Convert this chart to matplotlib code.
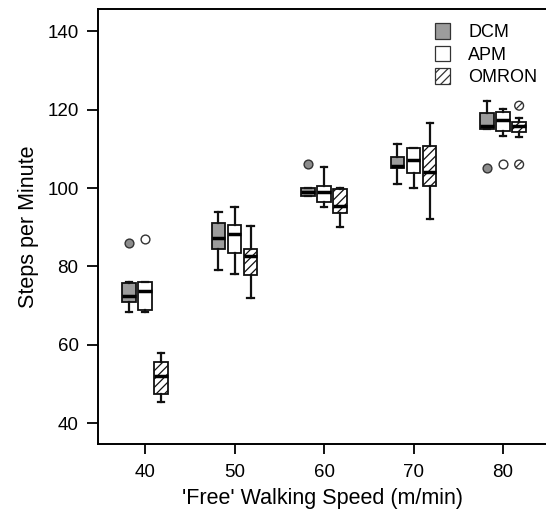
import numpy as np
import matplotlib
matplotlib.use("Agg")
import matplotlib.pyplot as plt
from matplotlib.patches import Patch

plt.rcParams['font.family'] = ['Liberation Sans', 'DejaVu Sans']
plt.rcParams['hatch.linewidth'] = 0.9

# walking speeds (m/min)
speeds = [40, 50, 60, 70, 80]
devices = ['DCM', 'APM', 'OMRON']

# box plot summaries (steps per minute)
dcm_whishi = [76.1, 94.0, 100.1, 111.2, 122.1]
dcm_q3 = [75.7, 91.0, 100.1, 108.0, 119.2]
dcm_med = [72.5, 87.2, 99.1, 105.5, 115.7]
dcm_q1 = [71.0, 84.5, 98.0, 105.0, 115.1]
dcm_whislo = [68.4, 79.1, 98.0, 101.0, 115.1]
dcm_out_x = [40, 60, 80]
dcm_out_y = [86, 106, 105]

apm_whishi = [76.1, 95.1, 105.3, 110.1, 120.1]
apm_q3 = [76.1, 90.6, 100.6, 110.1, 119.3]
apm_med = [73.8, 88.2, 99.1, 107.2, 117.4]
apm_q1 = [68.9, 83.5, 96.5, 103.9, 114.6]
apm_whislo = [68.3, 78.0, 95.1, 100.0, 113.3]
apm_out_x = [40, 80]
apm_out_y = [87, 106]

omron_whishi = [58.0, 90.2, 99.9, 116.5, 117.9]
omron_q3 = [55.5, 84.5, 99.7, 110.6, 116.9]
omron_med = [52.1, 82.7, 95.3, 104.0, 115.7]
omron_q1 = [47.5, 77.7, 93.6, 100.5, 114.3]
omron_whislo = [45.3, 72.0, 90.0, 92.0, 113.1]
omron_out_x = [80, 80]
omron_out_y = [121, 106]

series = [
    (dcm_whislo, dcm_q1, dcm_med, dcm_q3, dcm_whishi, dcm_out_x, dcm_out_y),
    (apm_whislo, apm_q1, apm_med, apm_q3, apm_whishi, apm_out_x, apm_out_y),
    (omron_whislo, omron_q1, omron_med, omron_q3, omron_whishi, omron_out_x, omron_out_y),
]
offsets = [-1.8, 0.0, 1.8]
fills = ['#9c9c9c', 'white', 'white']
hatches = [None, None, '////']
out_fill = ['#8c8c8c', 'white', 'white']

fig = plt.figure(figsize=(5.46, 5.16), dpi=100)
ax = fig.add_axes([98 / 546, 1 - 444.3 / 516, 1 - 98 / 546, (444.3 - 9.3) / 516])

for k, (lo, q1, med, q3, hi, ox, oy) in enumerate(series):
    stats = []
    for i in range(len(speeds)):
        stats.append(dict(whislo=lo[i], q1=q1[i], med=med[i], q3=q3[i], whishi=hi[i], fliers=[]))
    pos = [s + offsets[k] for s in speeds]
    bp = ax.bxp(stats, positions=pos, widths=1.5, patch_artist=True, showfliers=False,
                manage_ticks=False,
                boxprops=dict(facecolor=fills[k], edgecolor='#111111', linewidth=1.3,
                              hatch=hatches[k]),
                medianprops=dict(color='black', linewidth=2.5, solid_capstyle='butt'),
                whiskerprops=dict(color='#111111', linewidth=1.6),
                capprops=dict(color='#111111', linewidth=1.6),
                capwidths=0.7)
    # outliers
    for x, y in zip(ox, oy):
        ax.scatter([x + offsets[k]], [y], s=40, facecolor=out_fill[k],
                   edgecolor='#333333', linewidth=1.0, hatch=hatches[k], zorder=3)

ax.set_xlim(34.75, 84.8)
ax.set_ylim(34.6, 145.6)
ax.set_xticks(speeds)
ax.set_yticks([40, 60, 80, 100, 120, 140])
ax.tick_params(axis='y', direction='out', length=8, width=1.3, labelsize=13.5, pad=6)
ax.tick_params(axis='x', direction='out', length=7, width=1.3, labelsize=13.5, pad=7)
for sp in ['left', 'bottom', 'top']:
    ax.spines[sp].set_linewidth(1.4)
ax.spines['right'].set_visible(False)

ax.set_xlabel("'Free' Walking Speed (m/min)", fontsize=15.5, labelpad=5)
ax.set_ylabel("Steps per Minute", fontsize=15.5, labelpad=6)

# legend
handles = [Patch(facecolor=fills[i], edgecolor='#333333', hatch=hatches[i], linewidth=0.9)
           for i in range(3)]
ax.legend(handles, devices, loc='upper left', bbox_to_anchor=(435 / 546, 1 - 23 / 516),
          bbox_transform=fig.transFigure, frameon=False, fontsize=13,
          handlelength=0.85, handleheight=0.95, handletextpad=1.0, labelspacing=0.25,
          borderpad=0, borderaxespad=0)

fig.savefig('out.png', dpi=100)
